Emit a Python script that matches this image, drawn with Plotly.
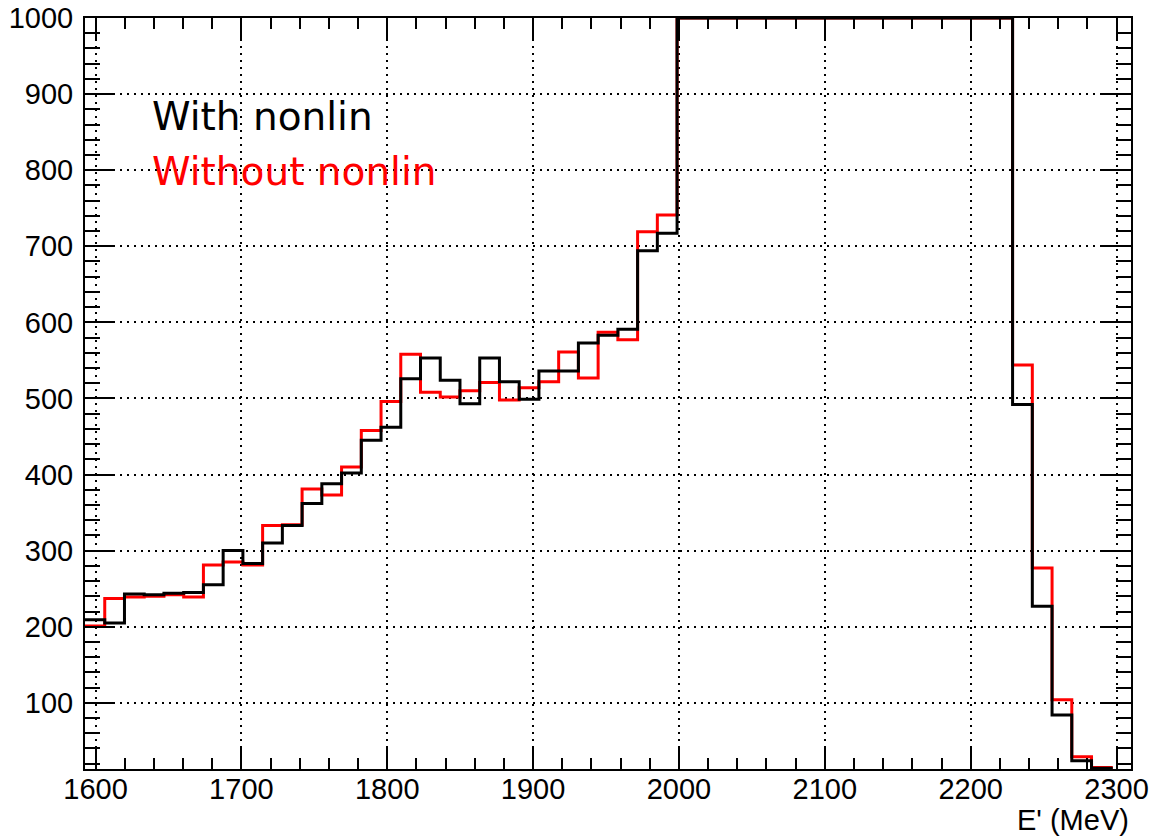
import numpy as np
import plotly.graph_objects as go

# Histogram binning: 53 uniform bins of E' (MeV)
bin_start = 1592.8
bin_width = 13.53
n_bins = 53

# Bin contents; the central bins run past the 1000 frame maximum and are capped there
with_nonlin = [
    209, 205, 243, 242, 244, 245, 255, 300, 283, 310,
    333, 362, 388, 402, 445, 462, 526, 553, 524, 493,
    553, 522, 499, 536, 536, 573, 583, 591, 694, 717,
    1000, 1000, 1000, 1000, 1000, 1000, 1000, 1000, 1000, 1000,
    1000, 1000, 1000, 1000, 1000, 1000, 1000,
    492, 227, 84, 24, 14, 2,
]
without_nonlin = [
    201, 237, 239, 240, 242, 239, 281, 285, 281, 333,
    334, 381, 373, 410, 458, 496, 558, 508, 502, 510,
    521, 498, 514, 522, 561, 527, 587, 577, 719, 741,
    1000, 1000, 1000, 1000, 1000, 1000, 1000, 1000, 1000, 1000,
    1000, 1000, 1000, 1000, 1000, 1000, 1000,
    544, 277, 104, 29, 15, 3,
]

legend_labels = ["With nonlin", "Without nonlin"]
x_title = "E' (MeV)"
y_range = [13, 1000]

edges = bin_start + bin_width * np.arange(n_bins + 1)
x_range = [edges[0], edges[-1]]


def step_trace(values, color, name):
    # repeat the last content so the final bin gets its full width with 'hv' steps
    return go.Scatter(
        x=edges,
        y=list(values) + [values[-1]],
        mode="lines",
        line=dict(shape="hv", color=color, width=3),
        name=name,
        hoverinfo="skip",
    )


fig = go.Figure()
fig.add_trace(step_trace(without_nonlin, "#ff0000", legend_labels[1]))
fig.add_trace(step_trace(with_nonlin, "#000000", legend_labels[0]))

tick_font = dict(family="Liberation Sans, Arial, Helvetica, sans-serif", size=29, color="black")

common_axis = dict(
    ticks="inside",
    tickwidth=2,
    tickcolor="black",
    showline=True,
    linecolor="black",
    linewidth=2,
    mirror="allticks",
    showgrid=True,
    gridcolor="black",
    gridwidth=1.5,
    griddash="2px,5px",
    zeroline=False,
    tickfont=tick_font,
    automargin=False,
)

fig.update_xaxes(
    range=x_range,
    tick0=1600,
    dtick=100,
    ticklen=22,
    minor=dict(dtick=20, tick0=1600, ticks="inside", ticklen=11, tickwidth=2,
               tickcolor="black", showgrid=False),
    ticklabelstandoff=-7,
    **common_axis,
)
fig.update_yaxes(
    range=y_range,
    tick0=0,
    dtick=100,
    ticklen=30,
    minor=dict(dtick=20, tick0=0, ticks="inside", ticklen=15, tickwidth=2,
               tickcolor="black", showgrid=False),
    ticklabelstandoff=4,
    **common_axis,
)

legend_font = "DejaVu Sans, Verdana, sans-serif"
fig.add_annotation(
    text=legend_labels[0], xref="paper", yref="paper", x=0.062, y=0.869,
    xanchor="left", yanchor="middle", showarrow=False,
    font=dict(family=legend_font, size=39, color="black"),
)
fig.add_annotation(
    text=legend_labels[1], xref="paper", yref="paper", x=0.062, y=0.795,
    xanchor="left", yanchor="middle", showarrow=False,
    font=dict(family=legend_font, size=39, color="#ff0000"),
)
fig.add_annotation(
    text=x_title, xref="paper", yref="paper", x=1.0, y=-0.068,
    xanchor="right", yanchor="middle", showarrow=False,
    font=tick_font,
)

fig.update_layout(
    width=1156,
    height=836,
    margin=dict(l=85, r=25, t=18, b=67, pad=0, autoexpand=False),
    plot_bgcolor="white",
    paper_bgcolor="white",
    showlegend=False,
)

fig.write_html("out.html")
